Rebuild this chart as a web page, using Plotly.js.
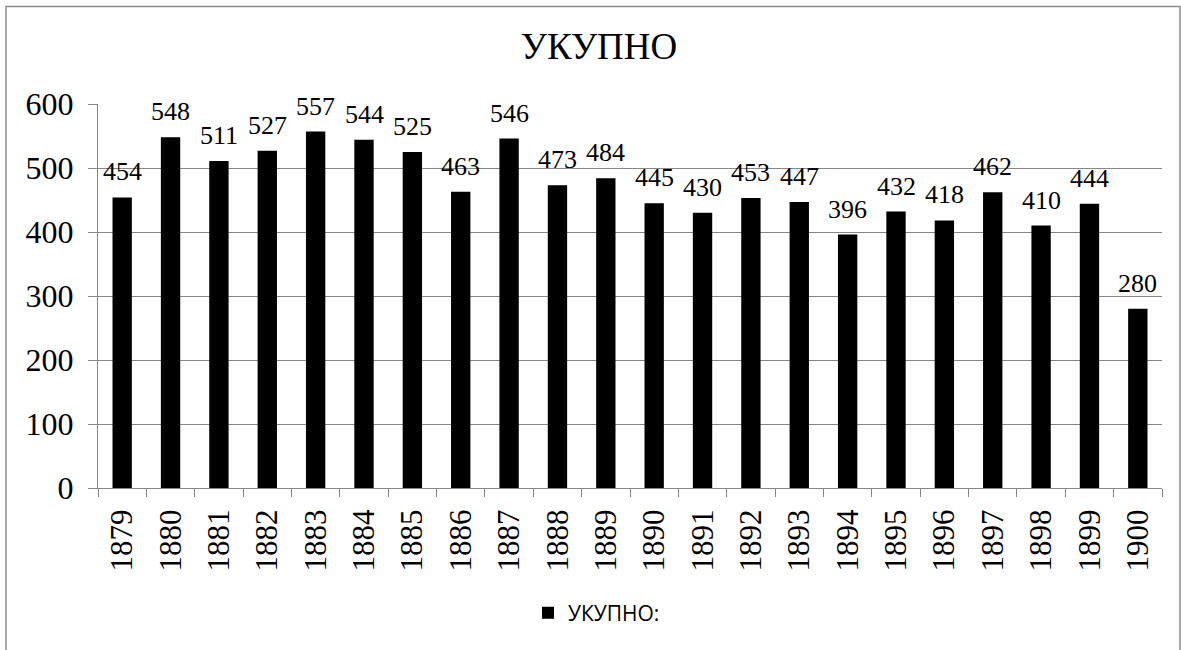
<!DOCTYPE html>
<html>
<head>
<meta charset="utf-8">
<script src="https://cdn.plot.ly/plotly-3.0.1.min.js"></script>
<style>
html,body{margin:0;padding:0;background:#fff;}
#chart{width:1181px;height:650px;}
</style>
</head>
<body>
<div id="chart"></div>
<script>
const years = ['1879','1880','1881','1882','1883','1884','1885','1886','1887','1888','1889','1890','1891','1892','1893','1894','1895','1896','1897','1898','1899','1900'];
const totals = [454,548,511,527,557,544,525,463,546,473,484,445,430,453,447,396,432,418,462,410,444,280];
const seriesName = 'УКУПНО:';
const chartTitle = 'УКУПНО';
const yTicks = [0,100,200,300,400,500,600];

const serif = 'Liberation Serif';
const grid = '#868686';

const trace = {
  type: 'bar',
  x: years,
  y: totals,
  name: seriesName,
  marker: {color: '#000000', line: {width: 0}},
  cliponaxis: false,
  hoverinfo: 'none',
  showlegend: true
};

// plot area: x 98..1162, y 104..488
const L = 98, R = 19, T = 104, B = 162;
const W = 1181 - L - R, H = 650 - T - B;
function px(x){ return (x - L) / W; }
function py(y){ return (650 - B - y) / H; }

// value labels: x is the category index on the category axis
const labels = years.map((yr, i) => ({
  x: i, y: totals[i], xref: 'x', yref: 'y',
  text: String(totals[i]), showarrow: false,
  yanchor: 'bottom', yshift: 9,
  font: {family: serif, size: 26, color: '#000'}
}));

const layout = {
  width: 1181, height: 650,
  margin: {l: L, r: R, t: T, b: B, pad: 0},
  paper_bgcolor: '#fff', plot_bgcolor: '#fff',
  font: {family: serif, color: '#000'},
  title: {text: chartTitle, font: {family: serif, size: 37, color: '#000'}, xref: 'paper', x: px(599), xanchor: 'center', y: 1 - 46/650, yanchor: 'middle'},
  bargap: 0.6,
  xaxis: {
    type: 'category',
    categoryorder: 'array', categoryarray: years,
    range: [-0.5, years.length - 0.5],
    tickangle: -90,
    tickfont: {family: serif, size: 31, color: '#000'},
    ticks: 'outside', ticklen: 8, tickcolor: grid, tickwidth: 1,
    tickson: 'boundaries',
    showline: true, linecolor: grid, linewidth: 1,
    showgrid: false, zeroline: false,
    ticklabelstandoff: 8
  },
  yaxis: {
    range: [0, 600],
    tickvals: yTicks,
    tickfont: {family: serif, size: 32, color: '#000'},
    ticks: 'outside', ticklen: 9, tickcolor: grid, tickwidth: 1,
    showline: true, linecolor: grid, linewidth: 1,
    showgrid: true, gridcolor: grid, gridwidth: 1,
    zeroline: false,
    ticklabelstandoff: 8,
    fixedrange: true
  },
  legend: {
    orientation: 'h', x: px(528), xanchor: 'left', y: py(613), yanchor: 'middle',
    font: {family: 'Open Sans', size: 21, color: '#000'},
    itemwidth: 30
  },
  annotations: labels,
  shapes: [{
    type: 'rect', xref: 'paper', yref: 'paper',
    x0: px(6), x1: px(1180), y0: py(660), y1: py(6.5),
    line: {color: '#8c8c8c', width: 1.5}, fillcolor: 'rgba(0,0,0,0)', layer: 'below'
  }]
};

Plotly.newPlot('chart', [trace], layout, {displayModeBar: false, staticPlot: true});
</script>
</body>
</html>
